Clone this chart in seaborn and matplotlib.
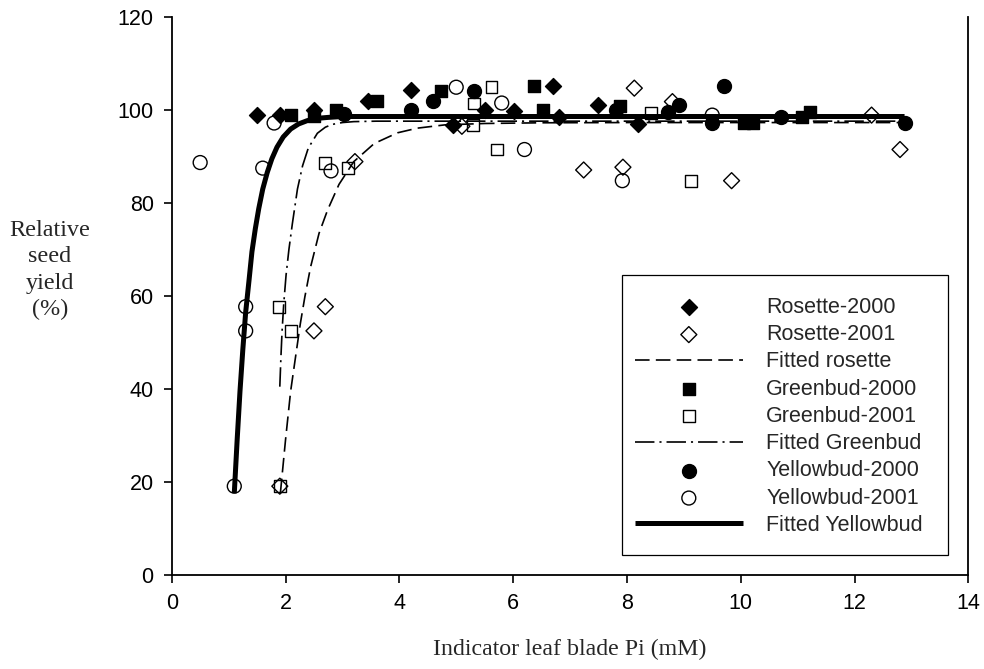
import matplotlib
matplotlib.use("Agg")
import matplotlib.pyplot as plt
from matplotlib.patches import Rectangle
import seaborn as sns

# ---- Observed relative seed yield (%) against indicator leaf blade Pi (mM) ----
rosette_2000_x = [1.5, 1.9, 2.5, 3.45, 4.2, 4.95, 5.5, 6.02, 6.7, 6.8, 7.5, 8.2]
rosette_2000_y = [99.0, 99.0, 100.0, 102.0, 104.2, 96.8, 100.0, 99.8, 105.2, 98.4, 101.0, 97.0]

rosette_2001_x = [1.9, 2.5, 2.7, 3.22, 5.1, 7.24, 7.93, 8.13, 8.8, 9.84, 12.3, 12.8]
rosette_2001_y = [19.1, 52.5, 57.7, 88.9, 96.5, 87.1, 87.7, 104.7, 101.8, 84.8, 98.9, 91.5]

greenbud_2000_x = [2.1, 2.5, 2.88, 3.6, 4.73, 6.37, 6.53, 7.87, 10.05, 10.22, 11.07, 11.22]
greenbud_2000_y = [99.0, 98.8, 100.0, 102.0, 104.0, 105.2, 100.1, 100.8, 97.3, 97.3, 98.6, 99.6]

greenbud_2001_x = [1.9, 1.88, 2.1, 2.7, 3.1, 5.3, 5.31, 5.62, 5.72, 8.43, 9.13]
greenbud_2001_y = [19.1, 57.7, 52.5, 88.7, 87.5, 96.8, 101.4, 104.9, 91.5, 99.3, 84.8]

yellowbud_2000_x = [3.03, 4.2, 4.6, 5.32, 7.8, 8.73, 8.92, 9.5, 9.7, 10.7, 12.89]
yellowbud_2000_y = [99.2, 100.0, 102.0, 104.1, 100.0, 99.6, 101.0, 97.1, 105.1, 98.4, 97.1]

yellowbud_2001_x = [0.5, 1.1, 1.3, 1.3, 1.6, 1.8, 2.8, 5.0, 5.8, 6.2, 7.92, 9.5]
yellowbud_2001_y = [88.7, 19.1, 57.7, 52.5, 87.5, 97.2, 86.9, 104.9, 101.5, 91.5, 84.8, 98.9]

# ---- Fitted response curves ----
fit_rosette_x = [1.91, 2.00, 2.09, 2.18, 2.26, 2.34, 2.44, 2.59, 2.74, 2.94, 3.20,
                 3.56, 3.97, 4.32, 4.80, 5.50, 6.50, 8.00, 12.88]
fit_rosette_y = [17.6, 29.0, 39.5, 47.2, 54.0, 59.8, 66.2, 73.5, 78.5, 84.0, 88.9,
                 92.8, 95.1, 96.1, 96.8, 97.1, 97.25, 97.3, 97.3]

fit_greenbud_x = [1.90, 1.92, 1.94, 1.97, 2.01, 2.06, 2.12, 2.21, 2.30, 2.40, 2.56,
                  2.70, 2.82, 3.00, 3.20, 3.60, 12.88]
fit_greenbud_y = [40.5, 47.0, 52.5, 58.5, 64.5, 70.0, 75.5, 83.0, 88.0, 91.8, 95.0,
                  96.3, 96.9, 97.3, 97.5, 97.6, 97.6]

fit_yellowbud_x = [1.10, 1.15, 1.20, 1.25, 1.30, 1.36, 1.41, 1.47, 1.53, 1.60, 1.68,
                   1.76, 1.85, 1.96, 2.09, 2.23, 2.38, 2.55, 2.74, 3.00, 12.88]
fit_yellowbud_y = [17.6, 29.0, 39.5, 48.5, 56.5, 63.5, 69.5, 74.5, 78.8, 83.0, 86.6,
                   89.5, 92.0, 94.2, 95.9, 97.0, 97.7, 98.2, 98.4, 98.6, 98.6]

x_ticks = [0, 2, 4, 6, 8, 10, 12, 14]
y_ticks = [0, 20, 40, 60, 80, 100, 120]

sns.set_style("ticks")
plt.rcParams["font.family"] = ["Liberation Sans", "DejaVu Sans"]
plt.rcParams["lines.scale_dashes"] = False

W, H = 984, 669
fig = plt.figure(figsize=(W / 100, H / 100), dpi=100)
ax = fig.add_axes([171.7 / W, 94 / H, 796.6 / W, 558 / H])

DIAMOND_S = 66
SQUARE_S = 74
CIRCLE_S = 100
EDGE_W = 1.0

dash_rosette = (0, (10.5, 4.5))
dash_greenbud = (0, (14.0, 3.6, 1.5, 3.6))

# Rosette
sns.scatterplot(x=rosette_2000_x, y=rosette_2000_y, marker="D", s=DIAMOND_S,
                color="black", edgecolor="black", linewidth=EDGE_W,
                label="Rosette-2000", ax=ax, zorder=3)
sns.scatterplot(x=rosette_2001_x, y=rosette_2001_y, marker="D", s=DIAMOND_S,
                facecolor="none", edgecolor="black", linewidth=EDGE_W,
                label="Rosette-2001", ax=ax, zorder=3)
sns.lineplot(x=fit_rosette_x, y=fit_rosette_y, color="black", linewidth=1.2,
             linestyle=dash_rosette, estimator=None, sort=False,
             label="Fitted rosette", ax=ax, zorder=4)

# Greenbud
sns.scatterplot(x=greenbud_2000_x, y=greenbud_2000_y, marker="s", s=SQUARE_S,
                color="black", edgecolor="black", linewidth=EDGE_W,
                label="Greenbud-2000", ax=ax, zorder=3)
sns.scatterplot(x=greenbud_2001_x, y=greenbud_2001_y, marker="s", s=SQUARE_S,
                facecolor="none", edgecolor="black", linewidth=EDGE_W,
                label="Greenbud-2001", ax=ax, zorder=3)
sns.lineplot(x=fit_greenbud_x, y=fit_greenbud_y, color="black", linewidth=1.2,
             linestyle=dash_greenbud, estimator=None, sort=False,
             label="Fitted Greenbud", ax=ax, zorder=4)

# Yellowbud
sns.scatterplot(x=yellowbud_2000_x, y=yellowbud_2000_y, marker="o", s=CIRCLE_S,
                color="black", edgecolor="black", linewidth=EDGE_W,
                label="Yellowbud-2000", ax=ax, zorder=3)
sns.scatterplot(x=yellowbud_2001_x, y=yellowbud_2001_y, marker="o", s=CIRCLE_S,
                facecolor="none", edgecolor="black", linewidth=EDGE_W,
                label="Yellowbud-2001", ax=ax, zorder=3)
sns.lineplot(x=fit_yellowbud_x, y=fit_yellowbud_y, color="black", linewidth=3.6,
             estimator=None, sort=False, solid_capstyle="butt",
             label="Fitted Yellowbud", ax=ax, zorder=4)

# Axes, ticks and frame
ax.set_xlim(0, 14)
ax.set_ylim(0, 120)
ax.set_xticks(x_ticks)
ax.set_yticks(y_ticks)
ax.tick_params(axis="both", direction="out", length=6, width=1.2, pad=7,
               labelsize=15.5, colors="black", top=False, right=False)
for side in ("left", "bottom", "right"):
    ax.spines[side].set_visible(True)
    ax.spines[side].set_linewidth(1.3)
    ax.spines[side].set_color("black")
ax.spines["top"].set_visible(False)

serif = ["Liberation Serif", "DejaVu Serif"]
ax.set_xlabel("Indicator leaf blade Pi (mM)", family=serif, fontsize=17.2)
ax.xaxis.set_label_coords(0.5, (575 - 649) / 558)
ax.xaxis.label.set_va("center")

ax.set_ylabel("Relative\nseed\nyield\n(%)", family=serif, fontsize=17.4,
              rotation=0, ha="center", va="center", multialignment="center",
              linespacing=1.34)
ax.yaxis.set_label_coords((49.7 - 171.7) / 796.6, (575 - 270) / 558)

# Legend box and entries
ax.add_patch(Rectangle((621.7 / W, 1 - 555 / H), 326.6 / W, 280 / H,
                       transform=fig.transFigure, facecolor="white",
                       edgecolor="black", linewidth=0.9, zorder=5,
                       clip_on=False))
handles, labels = ax.get_legend_handles_labels()
leg = ax.legend(handles, labels, loc="upper left",
                bbox_to_anchor=(635 / W, 1 - 297 / H),
                bbox_transform=fig.transFigure, frameon=False,
                borderpad=0, borderaxespad=0, handlelength=5.0,
                handletextpad=1.1, labelspacing=0.29, scatterpoints=1,
                prop={"family": ["Liberation Sans", "DejaVu Sans"], "size": 15.5})
leg.set_zorder(6)

fig.savefig("out.png", dpi=100)
